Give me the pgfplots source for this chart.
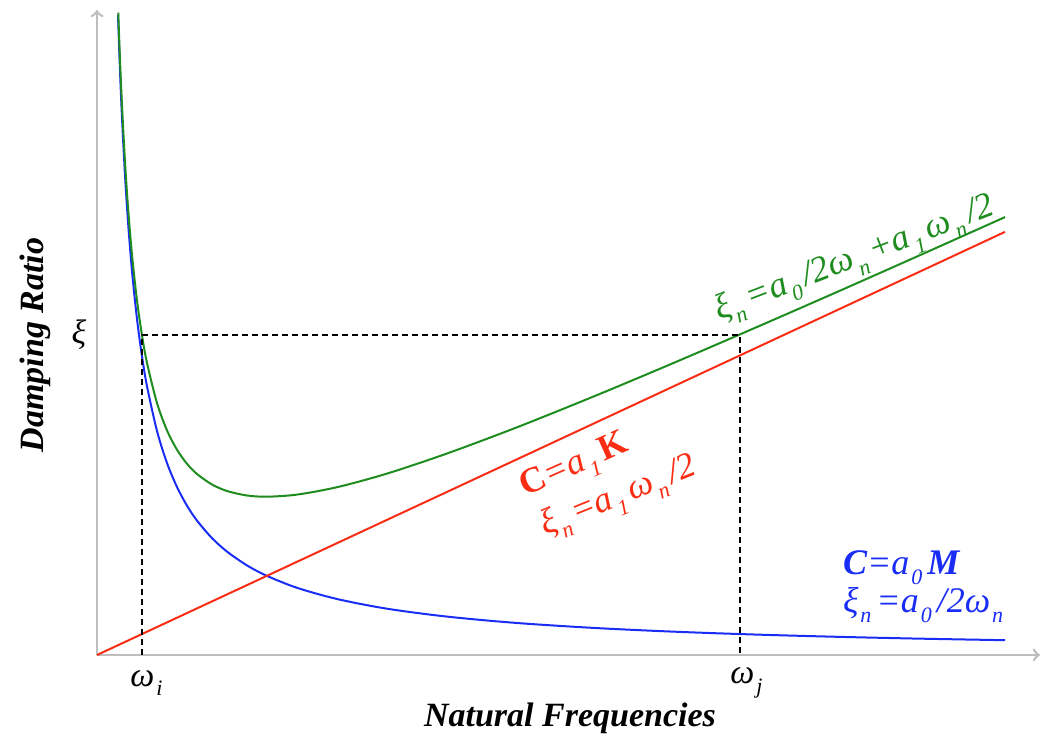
\documentclass[border=0pt]{standalone}
\usepackage{pgfplots}
\pgfplotsset{compat=1.18}
\usepackage{fontspec}
\setmainfont{Liberation Serif}
\definecolor{cgreen}{RGB}{30,140,30}
\definecolor{cred}{RGB}{250,45,20}
\definecolor{cblue}{RGB}{25,45,245}
\definecolor{caxis}{RGB}{190,190,190}
\newcommand{\lo}[1]{\kern1pt\raisebox{-0.6ex}{\fontsize{11}{12}\selectfont #1}\kern2.5pt}
\begin{document}
\begin{tikzpicture}
\useasboundingbox (-48.5pt,-41pt) rectangle (472.5pt,327.5pt);
\begin{axis}[
  at={(0,0)}, anchor=south west,
  x=0.5pt, y=0.5pt,
  xmin=0, xmax=943, ymin=0, ymax=645,
  axis lines=left,
  axis line style={caxis, line width=1.3pt, ->},
  xtick=\empty, ytick=\empty,
  clip=false,
]
% blue: C = a0 M
\addplot[cblue, line width=1pt, smooth] coordinates {
(21,640) (23,584.3) (25,537.6) (28,480) (31,433.5) (35,384) (40,336) (45,298.7)
(50,268.8) (60,224) (70,192) (80,168) (90,149.3) (100,134.4) (115,116.9) (130,103.4)
(150,89.6) (170,79.1) (200,67.2) (240,56) (290,46.3) (350,38.4) (420,32) (500,26.9)
(580,23.2) (660,20.4) (740,18.2) (820,16.4) (908,14.8)};
% red: C = a1 K
\addplot[cred, line width=1pt] coordinates {(0,0) (908,423.1)};
% green: sum
\addplot[cgreen, line width=1pt, smooth] coordinates {
(21.25,642.4) (23,595.0) (25,549.3) (28,493.0) (31,447.9) (35,400.3) (40,354.6) (45,319.7)
(50,292.1) (60,252.0) (70,224.6) (80,205.3) (90,191.2) (100,181.0) (115,170.5) (130,164.0)
(150,159.5) (170,158.3) (200,160.4) (240,167.8) (290,181.4) (350,201.5) (420,227.7)
(500,259.9) (580,293.5) (660,328.0) (740,363.0) (820,398.5) (908,437.9)};
% dashed guides
\draw[black, line width=0.7pt, dash pattern=on 3pt off 2pt]
  (axis cs:45,0) -- (axis cs:45,320) -- (axis cs:643,320) -- (axis cs:643,0);
% labels
\node[font=\fontsize{17}{19}\selectfont\itshape] at (axis cs:-18,320) {ξ};
\node[font=\fontsize{17}{19}\selectfont\itshape] at (axis cs:52,-28) {ω\lo{i}};
\node[font=\fontsize{17}{19}\selectfont\itshape] at (axis cs:652,-28) {ω\lo{j}};
\node[font=\fontsize{17}{19}\selectfont\bfseries\itshape] at (axis cs:473,-63) {Natural Frequencies};
\node[font=\fontsize{17}{19}\selectfont\bfseries\itshape, rotate=90] at (axis cs:-62,310) {Damping Ratio};
\node[cgreen, font=\fontsize{18}{20}\selectfont\itshape, rotate=21] at (axis cs:758,395)
  {ξ\lo{n}=a\lo{0}/2ω\lo{n}+a\lo{1}ω\lo{n}/2};
\node[cred, font=\fontsize{18}{20}\selectfont\itshape, rotate=24] at (axis cs:478,188)
  {\textbf{\upshape C}=a\lo{1}\textbf{\upshape K}};
\node[cred, font=\fontsize{18}{20}\selectfont\itshape, rotate=22] at (axis cs:522,157)
  {ξ\lo{n}=a\lo{1}ω\lo{n}/2};
\node[cblue, font=\fontsize{18}{20}\selectfont\itshape, anchor=west] at (axis cs:739,87)
  {\textbf{C}=a\lo{0}\textbf{M}};
\node[cblue, font=\fontsize{18}{20}\selectfont\itshape, anchor=west] at (axis cs:739,50)
  {ξ\lo{n}=a\lo{0}/2ω\lo{n}};
\end{axis}
\end{tikzpicture}
\end{document}
